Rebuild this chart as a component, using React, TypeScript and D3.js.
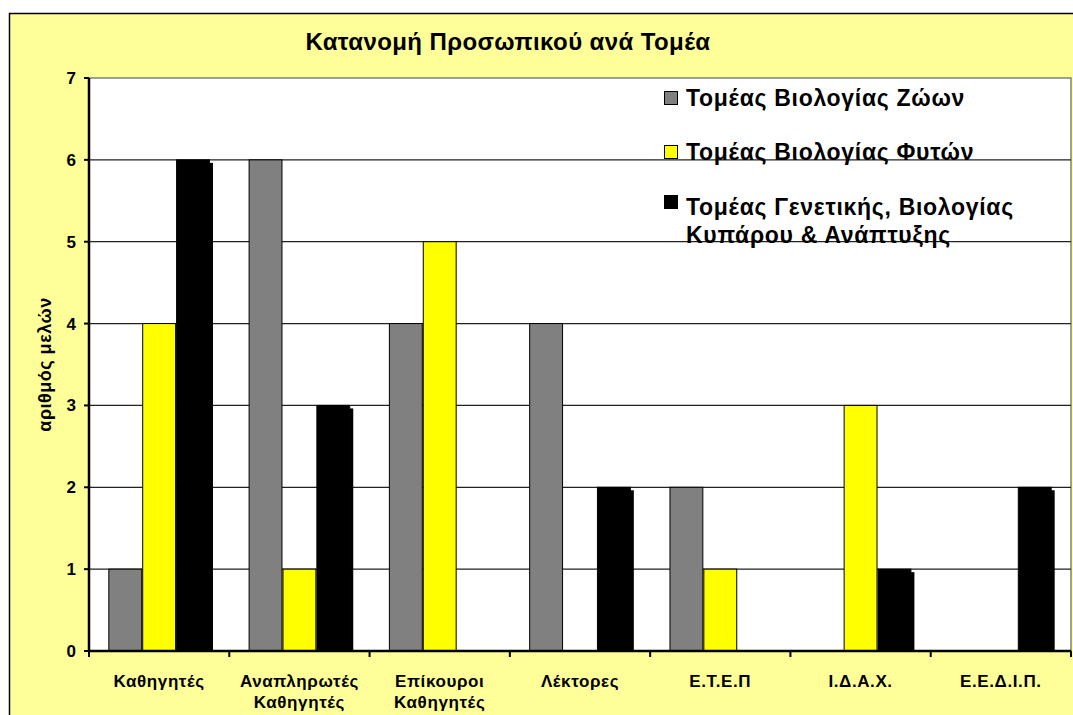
import * as d3 from 'd3'

const categories = [
  ['Καθηγητές'],
  ['Αναπληρωτές', 'Καθηγητές'],
  ['Επίκουροι', 'Καθηγητές'],
  ['Λέκτορες'],
  ['Ε.Τ.Ε.Π'],
  ['Ι.Δ.Α.Χ.'],
  ['Ε.Ε.Δ.Ι.Π.'],
]
const seriesNames = [
  ['Τομέας Βιολογίας Ζώων'],
  ['Τομέας Βιολογίας Φυτών'],
  ['Τομέας Γενετικής, Βιολογίας', 'Κυπάρου & Ανάπτυξης'],
]
const zoon = [1, 6, 4, 4, 2, 0, 0]
const fyton = [4, 1, 5, 0, 1, 3, 0]
const genetikis = [6, 3, 0, 2, 0, 1, 2]
const yTicks = [0, 1, 2, 3, 4, 5, 6, 7]

const seriesValues = [zoon, fyton, genetikis]
const colors = ['#808080', '#ffff00', '#000000']

const W = 1073
const H = 715
const plot = { left: 89, right: 1071, top: 78, bottom: 651 }
const font = 'Arial, "Liberation Sans", sans-serif'

export default function App() {
  const catKeys = categories.map((c) => c.join(' '))
  const x = d3.scaleBand().domain(catKeys).range([plot.left, plot.right])
  const xs = d3
    .scaleBand<number>()
    .domain([0, 1, 2])
    .range([0, x.bandwidth()])
    .paddingInner(0)
    .paddingOuter(0.57)
  const y = d3.scaleLinear().domain([0, 7]).range([plot.bottom, plot.top])

  const bars = seriesValues.flatMap((vals, s) =>
    vals.map((v, i) => ({ s, i, v })).filter((d) => d.v > 0),
  )

  return (
    <svg
      width={W}
      height={H}
      style={{ position: 'absolute', left: 0, top: 0, display: 'block' }}
      fontFamily={font}
    >
      <rect x={0} y={0} width={W} height={H} fill="#ffffff" />
      <rect x={9.5} y={13.5} width={W + 20} height={H + 20} fill="#ffff99" stroke="#000" strokeWidth={1.5} />

      <text x={508} y={50} textAnchor="middle" fontSize={24} fontWeight="bold" fill="#000" letterSpacing={0.4}>
        Κατανομή Προσωπικού ανά Τομέα
      </text>

      {/* plot area */}
      <rect
        x={plot.left}
        y={plot.top}
        width={plot.right - plot.left}
        height={plot.bottom - plot.top}
        fill="#ffffff"
        stroke="#808080"
        strokeWidth={1.5}
      />

      {yTicks.slice(1, -1).map((t) => (
        <line key={t} x1={plot.left} x2={plot.right} y1={y(t)} y2={y(t)} stroke="#222" strokeWidth={1.3} />
      ))}

      {bars.map((d) => {
        const bx = (x(catKeys[d.i]) ?? 0) + (xs(d.s) ?? 0)
        const bw = xs.bandwidth()
        const by = y(d.v)
        return (
          <g key={`${d.s}-${d.i}`}>
            {d.s === 2 && (
              <rect x={bx + bw - 1} y={by + 3} width={4} height={plot.bottom - by - 3} fill="#000" />
            )}
            <rect
              x={bx + 0.5}
              y={by}
              width={bw - 1}
              height={plot.bottom - by}
              fill={colors[d.s]}
              stroke="#000"
              strokeWidth={1}
            />
          </g>
        )
      })}

      {/* y axis */}
      <line x1={plot.left} x2={plot.left} y1={plot.top} y2={plot.bottom + 1} stroke="#000" strokeWidth={2.5} />
      {yTicks.map((t) => (
        <g key={t}>
          <line x1={plot.left - 5} x2={plot.left} y1={y(t)} y2={y(t)} stroke="#000" strokeWidth={2} />
          <text x={76} y={y(t) + 6} textAnchor="end" fontSize={17} fontWeight="bold" fill="#000">
            {t}
          </text>
        </g>
      ))}
      <text
        transform={`translate(51,${(plot.top + plot.bottom) / 2}) rotate(-90)`}
        textAnchor="middle"
        fontSize={18}
        fontWeight="bold"
        fill="#000"
        letterSpacing={0.5}
      >
        αριθμός μελών
      </text>

      {/* x axis */}
      <line x1={plot.left} x2={plot.right} y1={plot.bottom} y2={plot.bottom} stroke="#000" strokeWidth={2.5} />
      {[...catKeys.map((k) => x(k) ?? 0), plot.right].map((px, i) => (
        <line key={i} x1={px} x2={px} y1={plot.bottom} y2={plot.bottom + 6} stroke="#000" strokeWidth={2} />
      ))}
      {categories.map((lines, i) => (
        <text
          key={i}
          x={(x(catKeys[i]) ?? 0) + x.bandwidth() / 2}
          y={687}
          textAnchor="middle"
          fontSize={17}
          fontWeight="bold"
          fill="#000"
          letterSpacing={0.6}
        >
          {lines.map((l, j) => (
            <tspan key={j} x={(x(catKeys[i]) ?? 0) + x.bandwidth() / 2} dy={j === 0 ? 0 : 21}>
              {l}
            </tspan>
          ))}
        </text>
      ))}

      {/* legend */}
      {seriesNames.map((lines, s) => {
        const cy = [98, 152, 202][s]
        const by = [106, 160, 215][s]
        return (
          <g key={s}>
            <rect x={664.5} y={cy - 6.5} width={13} height={13} fill={colors[s]} stroke="#000" strokeWidth={1} />
            <text x={686} y={by} fontSize={23} fontWeight="bold" fill="#000" letterSpacing={0.7}>
              {lines.map((l, j) => (
                <tspan key={j} x={686} dy={j === 0 ? 0 : 28}>
                  {l}
                </tspan>
              ))}
            </text>
          </g>
        )
      })}
    </svg>
  )
}
